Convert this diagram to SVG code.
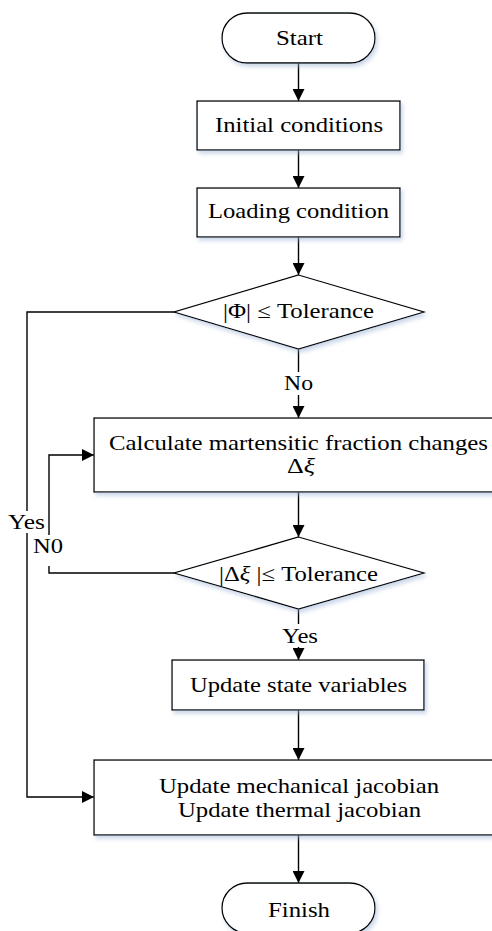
<svg xmlns="http://www.w3.org/2000/svg" width="492" height="931" viewBox="0 0 492 931">
<defs>
<filter id="sh" x="-10%" y="-20%" width="130%" height="150%">
<feDropShadow dx="2" dy="3" stdDeviation="2" flood-color="#9fb6d6" flood-opacity="0.55"/>
</filter>
<marker id="ah" markerUnits="userSpaceOnUse" markerWidth="12" markerHeight="12" refX="12" refY="6" orient="auto">
<path d="M0,0 L12,6 L0,12 z" fill="#000"/>
</marker>
<style>
.n{fill:#fff;stroke:#000;stroke-width:1.3;filter:url(#sh)}
.c{fill:none;stroke:#000;stroke-width:1.4}
.a{marker-end:url(#ah)}
text{font-family:"Liberation Serif","Times New Roman",serif;font-size:21px;fill:#000}
.m{text-anchor:middle}
.bg{fill:#fff;stroke:none}
</style>
</defs>
<rect width="492" height="931" fill="#fff"/>

<g id="connectors">
<path class="c a" d="M298.5,63 V101"/>
<path class="c a" d="M298.5,150 V188"/>
<path class="c a" d="M298.5,237 V275"/>
<path class="c a" d="M298.5,349 V418"/>
<path class="c a" d="M174,312 H27 V797 H94"/>
<path class="c a" d="M298.5,492 V537"/>
<path class="c a" d="M174,573 H49 V455 H94"/>
<path class="c a" d="M298.5,609 V660"/>
<path class="c a" d="M298.5,710 V760"/>
<path class="c a" d="M298.5,835 V883"/>
<rect class="bg" x="284" y="372" width="30" height="23"/>
<text class="m" x="298.5" y="390" textLength="29" lengthAdjust="spacingAndGlyphs">No</text>
<rect class="bg" x="8" y="511" width="37" height="22"/>
<text x="8" y="529" textLength="37" lengthAdjust="spacingAndGlyphs">Yes</text>
<rect class="bg" x="33" y="535" width="30" height="31"/>
<text x="33" y="553" textLength="30" lengthAdjust="spacingAndGlyphs">N0</text>
<rect class="bg" x="282" y="624" width="36" height="23"/>
<text class="m" x="300" y="643" textLength="36" lengthAdjust="spacingAndGlyphs">Yes</text>
</g>

<g id="start">
<rect class="n" x="222" y="13" width="153" height="50" rx="25" ry="25"/>
<text class="m" x="299.5" y="45" textLength="47" lengthAdjust="spacingAndGlyphs">Start</text>
</g>
<g id="initial">
<rect class="n" x="197" y="101" width="203" height="49"/>
<text class="m" x="299" y="132" textLength="168" lengthAdjust="spacingAndGlyphs">Initial conditions</text>
</g>
<g id="loading">
<rect class="n" x="197" y="188" width="203" height="49"/>
<text class="m" x="298.5" y="218" textLength="181" lengthAdjust="spacingAndGlyphs">Loading condition</text>
</g>
<g id="check-phi">
<polygon class="n" points="298.5,275 424,312 298.5,349 174,312"/>
<text class="m" x="298.5" y="318" textLength="151" lengthAdjust="spacingAndGlyphs">|Φ| ≤ Tolerance</text>
</g>
<g id="calc">
<rect class="n" x="94" y="418" width="409" height="74"/>
<text class="m" x="298.5" y="450" textLength="379" lengthAdjust="spacingAndGlyphs">Calculate martensitic fraction changes</text>
<text class="m" x="301" y="473" textLength="28" lengthAdjust="spacingAndGlyphs">Δ<tspan font-style="italic">ξ</tspan></text>
</g>
<g id="check-xi">
<polygon class="n" points="298.5,537 424,573 298.5,609 174,573"/>
<text class="m" x="298.5" y="581" textLength="159" lengthAdjust="spacingAndGlyphs">|Δ<tspan font-style="italic">ξ</tspan> |≤ Tolerance</text>
</g>
<g id="update-state">
<rect class="n" x="172" y="660" width="252" height="50"/>
<text class="m" x="298.5" y="692" textLength="217" lengthAdjust="spacingAndGlyphs">Update state variables</text>
</g>
<g id="update-jacobian">
<rect class="n" x="94" y="760" width="409" height="75"/>
<text class="m" x="299" y="793" textLength="280" lengthAdjust="spacingAndGlyphs">Update mechanical jacobian</text>
<text class="m" x="299.5" y="817" textLength="243" lengthAdjust="spacingAndGlyphs">Update thermal jacobian</text>
</g>
<g id="finish">
<rect class="n" x="222" y="883" width="153" height="50" rx="25" ry="25"/>
<text class="m" x="299" y="917" textLength="62" lengthAdjust="spacingAndGlyphs">Finish</text>
</g>
</svg>
